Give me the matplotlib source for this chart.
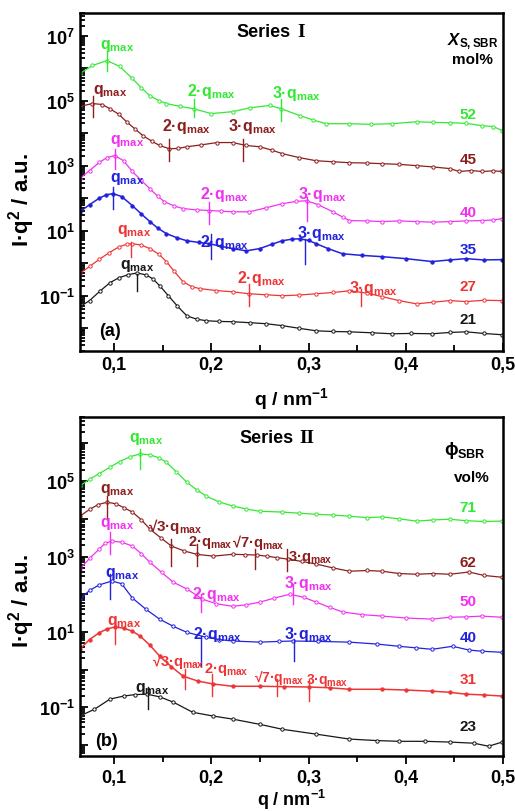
import numpy as np
import matplotlib
matplotlib.use('Agg')
import matplotlib.pyplot as plt
from matplotlib.ticker import FixedLocator, LogLocator, FuncFormatter, NullFormatter

plt.rcParams['font.family'] = ['Liberation Sans', 'DejaVu Sans']
plt.rcParams['font.weight'] = 'bold'
plt.rcParams['mathtext.fontset'] = 'custom'
plt.rcParams['mathtext.rm'] = 'Liberation Sans:bold'
plt.rcParams['mathtext.it'] = 'Liberation Sans:bold'
plt.rcParams['mathtext.bf'] = 'Liberation Sans:bold'
plt.rcParams['mathtext.sf'] = 'Liberation Sans:italic:bold'

GREEN = '#33e833'
BROWN = '#8c1e1e'
MAGENTA = '#f032f0'
BLUE = '#2222dd'
RED = '#ee3535'
BLACK = '#181818'

# ---- Series I : q (nm^-1) and log10(I q^2) ----
q_a52 = [0.065, 0.078, 0.093, 0.106, 0.119, 0.128, 0.137, 0.146, 0.154, 0.168, 0.182, 0.2, 0.222, 0.24,
         0.26, 0.272, 0.291, 0.305, 0.318, 0.342, 0.364, 0.386, 0.411, 0.428, 0.445, 0.462, 0.478, 0.49, 0.499]
lg_a52 = [5.83, 6.08, 6.23, 6.05, 5.68, 5.4, 5.15, 5.0, 4.91, 4.82, 4.75, 4.6, 4.66, 4.78,
          4.85, 4.75, 4.54, 4.4, 4.29, 4.29, 4.27, 4.29, 4.35, 4.33, 4.32, 4.3, 4.23, 4.2, 4.08]

q_a45 = [0.065, 0.078, 0.088, 0.096, 0.105, 0.113, 0.122, 0.13, 0.139, 0.147, 0.157, 0.166, 0.175, 0.19,
         0.206, 0.222, 0.236, 0.25, 0.262, 0.273, 0.29, 0.308, 0.325, 0.342, 0.36, 0.376, 0.393, 0.411,
         0.428, 0.445, 0.455, 0.467, 0.478, 0.49, 0.499]
lg_a45 = [4.82, 4.91, 4.88, 4.75, 4.58, 4.35, 4.12, 3.92, 3.75, 3.62, 3.52, 3.53, 3.58, 3.64,
          3.71, 3.71, 3.62, 3.58, 3.48, 3.37, 3.25, 3.15, 3.12, 3.09, 3.08, 3.06, 3.04, 3.0,
          2.96, 2.91, 2.82, 2.85, 2.82, 2.84, 2.82]

q_a40 = [0.065, 0.075, 0.085, 0.093, 0.101, 0.11, 0.119, 0.128, 0.137, 0.145, 0.152, 0.162, 0.171, 0.185,
         0.198, 0.21, 0.222, 0.239, 0.256, 0.273, 0.287, 0.298, 0.31, 0.325, 0.335, 0.342, 0.36, 0.376,
         0.393, 0.411, 0.428, 0.445, 0.462, 0.478, 0.49, 0.499]
lg_a40 = [2.6, 2.85, 3.1, 3.25, 3.31, 3.15, 2.82, 2.55, 2.29, 2.06, 1.89, 1.76, 1.68, 1.64,
          1.62, 1.6, 1.58, 1.58, 1.7, 1.83, 1.9, 1.92, 1.8, 1.58, 1.42, 1.31, 1.3, 1.28,
          1.3, 1.28, 1.26, 1.28, 1.3, 1.31, 1.33, 1.37]

q_a35 = [0.065, 0.075, 0.085, 0.092, 0.099, 0.108, 0.119, 0.128, 0.137, 0.145, 0.154, 0.165, 0.175, 0.187,
         0.198, 0.21, 0.222, 0.236, 0.25, 0.262, 0.273, 0.283, 0.291, 0.3, 0.308, 0.32, 0.335, 0.355,
         0.376, 0.4, 0.427, 0.445, 0.462, 0.48, 0.499]
lg_a35 = [1.58, 1.8, 2.0, 2.1, 2.14, 2.05, 1.77, 1.52, 1.28, 1.08, 0.91, 0.78, 0.69, 0.64,
          0.6, 0.52, 0.45, 0.38, 0.45, 0.58, 0.69, 0.74, 0.75, 0.7, 0.6, 0.45, 0.29, 0.24,
          0.2, 0.14, 0.05, 0.1, 0.14, 0.1, 0.11]

q_a27 = [0.065, 0.075, 0.085, 0.095, 0.105, 0.113, 0.119, 0.128, 0.137, 0.146, 0.154, 0.162, 0.171, 0.18,
         0.188, 0.205, 0.222, 0.239, 0.256, 0.273, 0.29, 0.308, 0.325, 0.342, 0.36, 0.376, 0.393, 0.411,
         0.428, 0.445, 0.462, 0.48, 0.499]
lg_a27 = [-0.32, -0.1, 0.12, 0.32, 0.5, 0.58, 0.6, 0.56, 0.45, 0.28, 0.05, -0.25, -0.57, -0.72,
          -0.78, -0.84, -0.88, -0.94, -0.97, -1.0, -0.98, -0.94, -0.9, -0.85, -0.92, -1.03, -1.15, -1.25,
          -1.2, -1.15, -1.18, -1.14, -1.15]

q_a21 = [0.065, 0.075, 0.086, 0.096, 0.105, 0.115, 0.124, 0.133, 0.14, 0.147, 0.156, 0.165, 0.175, 0.185,
         0.195, 0.208, 0.222, 0.24, 0.256, 0.273, 0.29, 0.308, 0.325, 0.342, 0.365, 0.386, 0.405, 0.427,
         0.445, 0.462, 0.48, 0.499]
lg_a21 = [-1.34, -1.15, -0.85, -0.6, -0.45, -0.35, -0.3, -0.36, -0.48, -0.69, -1.0, -1.31, -1.62, -1.72,
          -1.77, -1.79, -1.8, -1.83, -1.86, -1.92, -2.0, -2.08, -2.1, -2.11, -2.14, -2.17, -2.16, -2.17,
          -2.13, -2.11, -2.16, -2.2]

# ---- Series II ----
q_b71 = [0.065, 0.075, 0.085, 0.096, 0.106, 0.117, 0.127, 0.137, 0.146, 0.154, 0.164, 0.175, 0.185, 0.195,
         0.208, 0.222, 0.236, 0.25, 0.273, 0.29, 0.308, 0.325, 0.342, 0.36, 0.376, 0.393, 0.411, 0.428,
         0.445, 0.462, 0.48, 0.499]
lg_b71 = [4.87, 5.05, 5.2, 5.37, 5.52, 5.65, 5.72, 5.7, 5.62, 5.5, 5.25, 4.97, 4.77, 4.6,
          4.45, 4.34, 4.26, 4.2, 4.18, 4.15, 4.12, 4.1, 4.07, 4.03, 4.05, 4.0, 3.94, 3.97,
          3.99, 3.95, 3.93, 3.94]

q_b62 = [0.065, 0.075, 0.084, 0.093, 0.102, 0.11, 0.119, 0.128, 0.137, 0.148, 0.159, 0.172, 0.185, 0.202,
         0.222, 0.235, 0.247, 0.257, 0.268, 0.279, 0.293, 0.308, 0.325, 0.342, 0.36, 0.376, 0.393, 0.411,
         0.428, 0.445, 0.465, 0.48, 0.499]
lg_b62 = [4.07, 4.25, 4.38, 4.44, 4.4, 4.3, 4.18, 3.98, 3.73, 3.5, 3.28, 3.15, 3.06, 3.01,
          3.06, 3.05, 3.04, 3.01, 2.97, 2.93, 2.87, 2.8, 2.7, 2.61, 2.63, 2.61, 2.55, 2.53,
          2.55, 2.53, 2.59, 2.5, 2.45]

q_b50 = [0.065, 0.075, 0.085, 0.091, 0.098, 0.108, 0.119, 0.128, 0.137, 0.149, 0.161, 0.175, 0.191, 0.205,
         0.222, 0.236, 0.25, 0.265, 0.281, 0.295, 0.308, 0.322, 0.335, 0.355, 0.376, 0.4, 0.427, 0.445,
         0.462, 0.478, 0.499]
lg_b50 = [2.67, 2.95, 3.2, 3.35, 3.41, 3.38, 3.28, 3.08, 2.85, 2.58, 2.32, 2.14, 1.87, 1.75,
          1.68, 1.72, 1.79, 1.9, 2.0, 1.92, 1.79, 1.65, 1.53, 1.46, 1.42, 1.37, 1.34, 1.39,
          1.4, 1.42, 1.39]

q_b40 = [0.065, 0.075, 0.085, 0.098, 0.108, 0.119, 0.133, 0.147, 0.161, 0.175, 0.195, 0.208, 0.222, 0.25,
         0.27, 0.284, 0.31, 0.342, 0.37, 0.393, 0.41, 0.427, 0.448, 0.465, 0.478, 0.499]
lg_b40 = [1.87, 2.1, 2.25, 2.35, 2.28, 1.9, 1.6, 1.34, 1.15, 0.99, 0.86, 0.8, 0.76, 0.73,
          0.75, 0.76, 0.75, 0.73, 0.68, 0.62, 0.58, 0.54, 0.62, 0.52, 0.49, 0.46]

q_b31 = [0.065, 0.075, 0.085, 0.093, 0.101, 0.11, 0.119, 0.127, 0.137, 0.147, 0.159, 0.171, 0.186, 0.202,
         0.222, 0.25, 0.275, 0.301, 0.322, 0.342, 0.376, 0.4, 0.427, 0.445, 0.462, 0.48, 0.499]
lg_b31 = [0.54, 0.8, 0.98, 1.08, 1.13, 1.1, 1.02, 0.89, 0.65, 0.36, 0.08, -0.17, -0.3, -0.38,
          -0.44, -0.44, -0.45, -0.46, -0.48, -0.52, -0.52, -0.54, -0.57, -0.6, -0.65, -0.67, -0.7]

q_b23 = [0.065, 0.08, 0.096, 0.11, 0.122, 0.134, 0.147, 0.161, 0.181, 0.202, 0.222, 0.25, 0.273, 0.308,
         0.342, 0.37, 0.393, 0.42, 0.445, 0.47, 0.485, 0.499]
lg_b23 = [-1.23, -1.05, -0.78, -0.7, -0.66, -0.65, -0.72, -0.86, -1.13, -1.23, -1.31, -1.45, -1.58, -1.71,
          -1.84, -1.88, -1.9, -1.9, -1.92, -1.95, -2.03, -1.92]

# peak marks: (text, q of tick, log bottom, log top, label q, label log, font size)
QM = 'q$_{max}$'
Q2 = '2·q$_{max}$'
Q3 = '3·q$_{max}$'
QR3 = '√3·q$_{max}$'
QR7 = '√7·q$_{max}$'

marks_a52 = [(QM, 0.093, 5.92, 6.54, 0.086, 6.7, 11.5), (Q2, 0.182, 4.51, 5.06, 0.175, 5.32, 11.5),
             (Q3, 0.272, 4.38, 5.06, 0.262, 5.24, 11.5)]
marks_a45 = [(QM, 0.0785, 4.51, 5.15, 0.0785, 5.32, 11.5), (Q2, 0.157, 3.15, 3.83, 0.149, 4.24, 11.5),
             (Q3, 0.233, 3.15, 3.83, 0.217, 4.24, 11.5)]
marks_a40 = [(QM, 0.101, 2.91, 3.52, 0.096, 3.78, 11.5), (Q2, 0.198, 1.22, 1.89, 0.188, 2.15, 11.5),
             (Q3, 0.298, 1.31, 2.05, 0.289, 2.15, 11.5)]
marks_a35 = [(QM, 0.099, 1.68, 2.35, 0.096, 2.61, 11.5), (Q2, 0.1995, 0.14, 0.91, 0.188, 0.67, 11.5),
             (Q3, 0.296, -0.02, 0.75, 0.288, 0.95, 11.5)]
marks_a27 = [(QM, 0.118, 0.2, 0.66, 0.103, 1.01, 11.5), (Q2, 0.239, -1.31, -0.63, 0.226, -0.43, 11.5),
             (Q3, 0.354, -1.31, -0.78, 0.342, -0.74, 11.5)]
marks_a21 = [(QM, 0.1236, -0.85, -0.32, 0.106, -0.07, 11.5)]

marks_b71 = [(QM, 0.1267, 5.32, 5.85, 0.116, 6.14, 11.5)]
marks_b62 = [(QM, 0.0928, 3.99, 4.6, 0.0856, 4.79, 11.5), (QR3, 0.159, 2.75, 3.46, 0.135, 3.81, 11),
             (Q2, 0.185, 2.75, 3.33, 0.176, 3.41, 10.5), (QR7, 0.2446, 2.67, 3.2, 0.221, 3.41, 10.5),
             (Q3, 0.278, 2.61, 3.2, 0.279, 3.01, 10.5)]
marks_b50 = [(QM, 0.0959, 3.06, 3.65, 0.0856, 3.89, 11.5), (Q2, 0.19, 1.52, 2.0, 0.18, 2.03, 11.5),
             (Q3, 0.2836, 1.74, 2.27, 0.275, 2.3, 11.5)]
marks_b40 = [(QM, 0.0959, 1.87, 2.53, 0.0908, 2.56, 11.5), (Q2, 0.19, 0.09, 0.89, 0.181, 0.97, 11.5),
             (Q3, 0.2846, 0.23, 0.81, 0.275, 0.95, 11.5)]
marks_b31 = [(QM, 0.101, 0.68, 1.21, 0.0928, 1.29, 11.5), (QR3, 0.173, -0.52, 0.01, 0.139, 0.23, 10.5),
             (Q2, 0.2005, -0.7, -0.12, 0.193, 0.02, 10.5), (QR7, 0.268, -0.7, -0.25, 0.2435, -0.17, 10),
             (Q3, 0.301, -0.84, -0.25, 0.297, -0.25, 10)]
marks_b23 = [(QM, 0.135, -1.05, -0.46, 0.1215, -0.49, 11.5)]

series_a = [(q_a52, lg_a52, GREEN, '52', 0.701, marks_a52, False),
            (q_a45, lg_a45, BROWN, '45', 0.568, marks_a45, False),
            (q_a40, lg_a40, MAGENTA, '40', 0.411, marks_a40, False),
            (q_a35, lg_a35, BLUE, '35', 0.302, marks_a35, True),
            (q_a27, lg_a27, RED, '27', 0.192, marks_a27, False),
            (q_a21, lg_a21, BLACK, '21', 0.095, marks_a21, False)]
series_b = [(q_b71, lg_b71, GREEN, '71', 0.735, marks_b71, False),
            (q_b62, lg_b62, BROWN, '62', 0.572, marks_b62, False),
            (q_b50, lg_b50, MAGENTA, '50', 0.457, marks_b50, False),
            (q_b40, lg_b40, BLUE, '40', 0.351, marks_b40, False),
            (q_b31, lg_b31, RED, '31', 0.227, marks_b31, True),
            (q_b23, lg_b23, BLACK, '23', 0.088, marks_b23, False)]


def comma(v, pos):
    return ('%.1f' % v).replace('.', ',')


def decade(v, pos):
    e = int(round(np.log10(v)))
    if e % 2 == 0:
        return ''
    return r'$10^{%d}$' % e


def setup_axes(ax, ylo, yhi, tickdir, xlabel_size):
    ax.set_yscale('log')
    ax.set_xlim(0.065, 0.5)
    ax.set_ylim(10 ** ylo, 10 ** yhi)
    ax.xaxis.set_major_locator(FixedLocator([0.1, 0.2, 0.3, 0.4, 0.5]))
    ax.xaxis.set_minor_locator(FixedLocator([0.15, 0.25, 0.35, 0.45]))
    ax.xaxis.set_major_formatter(FuncFormatter(comma))
    ax.yaxis.set_major_locator(LogLocator(base=10, numticks=30))
    ax.yaxis.set_minor_locator(LogLocator(base=10, subs=np.arange(2, 10), numticks=30))
    ax.yaxis.set_major_formatter(FuncFormatter(decade))
    ax.yaxis.set_minor_formatter(NullFormatter())
    ax.tick_params(axis='x', which='both', direction=tickdir, top=False, labelsize=13, width=1.3)
    ax.tick_params(axis='x', which='major', length=6)
    ax.tick_params(axis='x', which='minor', length=4)
    ax.tick_params(axis='y', which='both', direction='in', right=False, labelsize=13, width=1.3)
    ax.tick_params(axis='y', which='major', length=6)
    ax.tick_params(axis='y', which='minor', length=3.5)
    for s in ax.spines.values():
        s.set_linewidth(1.8)
    ax.set_xlabel(r'q / nm$^{-1}$', fontsize=xlabel_size, fontweight='bold')
    ax.set_ylabel(r'I·q$^{2}$ / a.u.', fontsize=16, fontweight='bold')


def draw_series(ax, series):
    for q, lg, color, name, ny, marks, filled in series:
        ax.plot(q, 10 ** np.array(lg), '-o', color=color, lw=1.1 if filled else 0.9, ms=2.4,
                mfc=color if filled else 'white', mec=color, mew=0.7)
        ax.text(0.917, ny, name, color=color, fontsize=11, ha='center', va='center',
                transform=ax.transAxes)
        for txt, qt, lo, hi, ql, ll, fs in marks:
            ax.plot([qt, qt], [10 ** lo, 10 ** hi], color=color, lw=1.0)
            ax.text(ql, 10 ** ll, txt, color=color, fontsize=fs, ha='left', va='center')


fig = plt.figure(figsize=(5.15, 8.12), dpi=100)
ax1 = fig.add_axes([0.155, 0.5665, 0.822, 0.4165])
ax2 = fig.add_axes([0.155, 0.0677, 0.822, 0.4175])

setup_axes(ax1, -2.7, 7.7, 'in', 14)
setup_axes(ax2, -2.29, 6.7, 'out', 13)
draw_series(ax1, series_a)
draw_series(ax2, series_b)

ax1.xaxis.set_label_coords(0.5, -0.1)
ax1.yaxis.set_label_coords(-0.1, 0.45)
ax2.xaxis.set_label_coords(0.5, -0.09)
ax2.yaxis.set_label_coords(-0.1, 0.46)

ax1.text(0.499, 0.944, 'Series', fontsize=13, ha='right', va='center', transform=ax1.transAxes)
ax1.text(0.513, 0.944, 'I', fontsize=14, ha='left', va='center', family='Liberation Serif',
         transform=ax1.transAxes)
ax1.text(0.927, 0.917, r'$\mathsf{X}_{S,SBR}$', fontsize=12, ha='center', va='center',
         transform=ax1.transAxes)
ax1.text(0.927, 0.864, 'mol%', fontsize=11, ha='center', va='center', transform=ax1.transAxes)
ax1.text(0.071, 0.062, '(a)', fontsize=13, ha='center', va='center', transform=ax1.transAxes)

ax2.text(0.506, 0.941, 'Series', fontsize=13, ha='right', va='center', transform=ax2.transAxes)
ax2.text(0.518, 0.941, 'II', fontsize=14, ha='left', va='center', family='Liberation Serif',
         transform=ax2.transAxes)
ax2.text(0.91, 0.905, r'$\phi_{SBR}$', fontsize=13, ha='center', va='center', transform=ax2.transAxes)
ax2.text(0.927, 0.823, 'vol%', fontsize=11, ha='center', va='center', transform=ax2.transAxes)
ax2.text(0.064, 0.046, '(b)', fontsize=13, ha='center', va='center', transform=ax2.transAxes)

fig.savefig('out.png', dpi=100)
